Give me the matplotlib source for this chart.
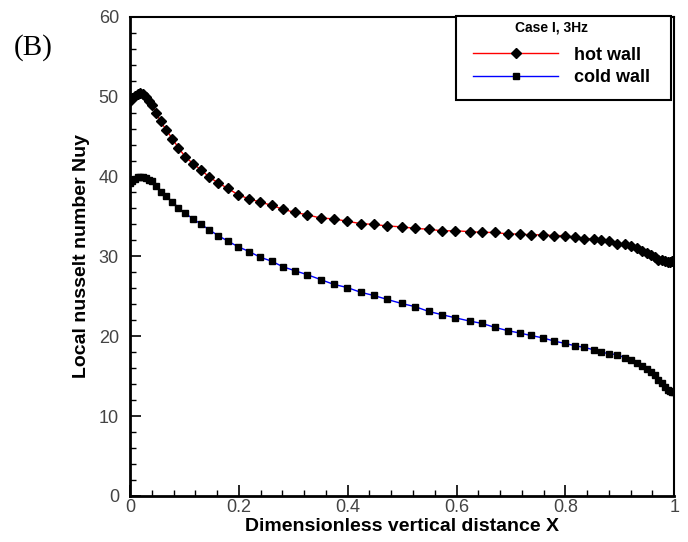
import matplotlib
matplotlib.use("Agg")
import matplotlib.pyplot as plt
from matplotlib.patches import Rectangle
from matplotlib.ticker import MultipleLocator

# grid positions along the wall (clustered near both ends)
x_pos = [0, 0.004, 0.009, 0.014, 0.019, 0.024, 0.029, 0.034,
         0.040, 0.048, 0.056, 0.067, 0.078, 0.089, 0.101, 0.116, 0.131, 0.146,
         0.162, 0.180, 0.199, 0.219, 0.239, 0.260, 0.281, 0.303, 0.326, 0.350,
         0.374, 0.399, 0.424, 0.448, 0.473, 0.499, 0.524, 0.549, 0.573, 0.598,
         0.624, 0.647, 0.671, 0.694, 0.716, 0.736, 0.758, 0.779, 0.799, 0.818,
         0.835, 0.852, 0.866, 0.881, 0.895, 0.909, 0.921, 0.932, 0.941, 0.950,
         0.958, 0.965, 0.971, 0.977, 0.983, 0.988, 0.992, 0.996, 1.0]

nu_hot = [49.5, 49.8, 50.1, 50.3, 50.4, 50.3, 50.0, 49.5,
          48.9, 48.0, 46.9, 45.8, 44.7, 43.6, 42.5, 41.6, 40.8, 39.9,
          39.2, 38.5, 37.7, 37.2, 36.8, 36.4, 35.9, 35.5, 35.2, 34.8,
          34.7, 34.4, 34.1, 34.0, 33.8, 33.7, 33.5, 33.4, 33.2, 33.2,
          33.1, 33.0, 33.0, 32.8, 32.8, 32.7, 32.7, 32.6, 32.6, 32.4,
          32.2, 32.2, 32.1, 31.9, 31.6, 31.5, 31.3, 31.0, 30.7, 30.4,
          30.2, 29.9, 29.6, 29.5, 29.4, 29.3, 29.3, 29.4, 29.5]

nu_cold = [39.2, 39.5, 39.7, 39.9, 39.9, 39.9, 39.8, 39.6,
           39.4, 38.8, 38.1, 37.5, 36.8, 36.1, 35.4, 34.7, 34.0, 33.3,
           32.6, 31.9, 31.2, 30.6, 29.9, 29.4, 28.7, 28.2, 27.7, 27.1,
           26.5, 26.1, 25.5, 25.1, 24.6, 24.1, 23.7, 23.1, 22.7, 22.3,
           21.9, 21.6, 21.1, 20.7, 20.4, 20.1, 19.8, 19.4, 19.1, 18.8,
           18.6, 18.3, 18.0, 17.8, 17.7, 17.3, 17.0, 16.6, 16.3, 15.9,
           15.5, 15.1, 14.5, 14.1, 13.7, 13.3, 13.1, 13.0, 13.0]

plt.rcParams['font.family'] = ['Liberation Sans', 'DejaVu Sans']

fig = plt.figure(figsize=(6.88, 5.42), dpi=100)
ax = fig.add_axes([0.189, 0.085, 0.791, 0.884])

ax.plot(x_pos, nu_hot, color='red', lw=1.0, marker='D', ms=4.6,
        mfc='black', mec='black', label='hot wall')
ax.plot(x_pos, nu_cold, color='blue', lw=1.0, marker='s', ms=4.3,
        mfc='black', mec='black', label='cold wall')

ax.set_xlim(0, 1)
ax.set_ylim(0, 60)
ax.xaxis.set_major_locator(MultipleLocator(0.2))
ax.xaxis.set_minor_locator(MultipleLocator(0.04))
ax.yaxis.set_major_locator(MultipleLocator(10))
ax.yaxis.set_minor_locator(MultipleLocator(2))
ax.xaxis.set_major_formatter(plt.FuncFormatter(lambda v, p: "%g" % v))
ax.tick_params(which='major', direction='in', length=8, width=1.2,
               labelsize=13, labelcolor='#444444')
ax.tick_params(axis='x', which='major', pad=2)
ax.tick_params(axis='y', which='major', pad=8)
ax.tick_params(which='minor', direction='in', length=4, width=1.0)

for side in ['left', 'bottom']:
    ax.spines[side].set_linewidth(2.0)
for side in ['top', 'right']:
    ax.spines[side].set_linewidth(1.5)

ax.set_xlabel('Dimensionless vertical distance X', fontsize=14,
              fontweight='bold', labelpad=1.5)
ax.set_ylabel('Local nusselt number Nuy', fontsize=14,
              fontweight='bold', labelpad=6)

# legend box, title and entries
ax.add_patch(Rectangle((0.599, 0.827), 0.395, 0.175, transform=ax.transAxes,
                       facecolor='white', edgecolor='black', lw=1.5,
                       zorder=4, clip_on=False))
ax.text(0.775, 0.977, 'Case I, 3Hz', transform=ax.transAxes, fontsize=10,
        fontweight='bold', ha='center', va='center', zorder=5)
leg = ax.legend(loc='upper left', bbox_to_anchor=(0.6305, 0.938),
                frameon=False, prop={'size': 13, 'weight': 'bold'},
                handlelength=4.7, borderpad=0, labelspacing=0.3,
                handletextpad=0.9, borderaxespad=0)
leg.set_zorder(6)

fig.text(0.048, 0.913, '(B)', fontsize=21, family='Liberation Serif',
         ha='center', va='center')

fig.savefig('out.png', dpi=100)
